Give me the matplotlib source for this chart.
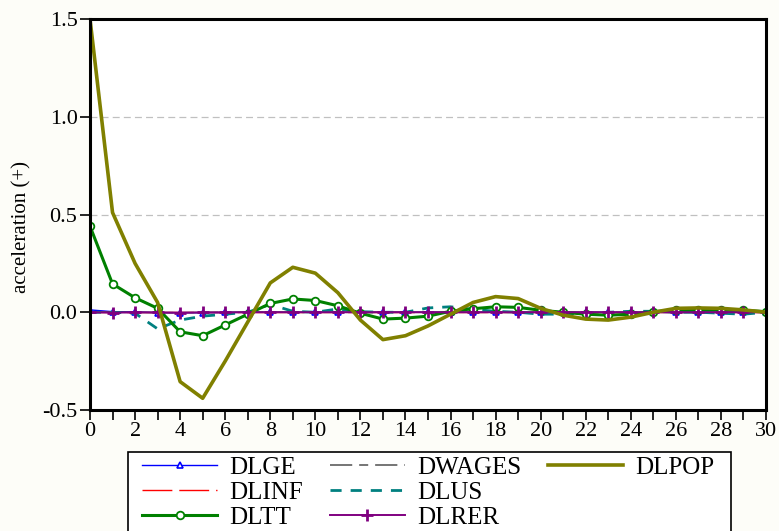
import matplotlib
matplotlib.use('Agg')
import matplotlib.pyplot as plt
from matplotlib.patches import Rectangle
import numpy as np

plt.rcParams['font.family'] = ['Liberation Serif', 'DejaVu Serif']
plt.rcParams['lines.scale_dashes'] = False

periods = np.arange(0, 31)

dlpop = [1.50, 0.51, 0.25, 0.05, -0.355, -0.44, -0.25, -0.05, 0.15, 0.23,
         0.20, 0.10, -0.04, -0.14, -0.12, -0.07, -0.01, 0.05, 0.08, 0.07,
         0.02, -0.015, -0.035, -0.04, -0.025, 0.0, 0.02, 0.022, 0.02, 0.012,
         0.0]
dltt = [0.44, 0.145, 0.074, 0.02, -0.10, -0.12, -0.065, -0.01, 0.045, 0.068,
        0.06, 0.033, -0.005, -0.035, -0.03, -0.02, 0.005, 0.018, 0.028, 0.025,
        0.01, 0.0, -0.01, -0.015, -0.01, 0.003, 0.01, 0.012, 0.012, 0.01,
        0.003]
dlus = [0.0, 0.0, -0.005, -0.085, -0.04, -0.02, -0.01, 0.0, 0.04, 0.005,
        0.0, 0.017, 0.003, 0.0, 0.0, 0.022, 0.028, 0.015, 0.005, 0.0,
        -0.01, -0.01, -0.005, 0.0, 0.005, 0.005, 0.0, 0.0, -0.005, -0.01,
        0.0]
dlge = [0.012, 0.003, 0.002, -0.002, -0.003, -0.002, -0.001, 0.0, 0.0, 0.0,
        0.0, 0.0, 0.0, 0.0, 0.0, 0.0, 0.0, 0.0, 0.0, 0.0,
        0.0, 0.0, 0.0, 0.0, 0.0, 0.0, 0.0, 0.0, 0.0, 0.0,
        0.0]
dlinf = [0.0] * 31
dwages = [0.002, 0.001, 0.0, -0.002, -0.002, -0.001, 0.0, 0.001, 0.001, 0.0,
          0.0, 0.0, 0.0, 0.0, 0.0, 0.0, 0.0, 0.0, 0.0, 0.0,
          0.0, 0.0, 0.0, 0.0, 0.0, 0.0, 0.0, 0.0, 0.0, 0.0,
          0.0]
dlrer = [0.0, -0.002, -0.001, -0.001, -0.002, -0.001, -0.001, 0.0, 0.0, 0.0,
         0.0, 0.0, 0.0, 0.0, 0.0, 0.0, 0.0, 0.0, 0.0, 0.0,
         0.0, 0.0, 0.0, 0.0, 0.0, 0.0, 0.0, 0.0, 0.0, 0.0,
         0.0]

W, H = 779, 531
fig = plt.figure(figsize=(W / 100, H / 100), dpi=100, facecolor='#fdfdf8')
ax = fig.add_axes([90 / W, 1 - 410 / H, 676 / W, 391 / H])
ax.set_facecolor('white')

ax.grid(axis='y', color='#c0c0c0', linestyle=(0, (5, 3)), lw=0.9)
ax.set_axisbelow(True)

h_ge, = ax.plot(periods, dlge, color='#0000ff', lw=1.0, marker='^', ms=5,
                mfc='white', mec='#0000ff', mew=1.2, label='DLGE')
h_inf, = ax.plot(periods, dlinf, color='#ff0000', lw=1.0,
                 linestyle=(0, (21.5, 5)), label='DLINF')
h_wg, = ax.plot(periods, dwages, color='#505050', lw=1.1,
                linestyle=(0, (16, 5, 6.5, 5)), label='DWAGES')
h_us, = ax.plot(periods, dlus, color='#008080', lw=2.0,
                linestyle=(0, (8, 6.5)), label='DLUS')
h_tt, = ax.plot(periods, dltt, color='#008000', lw=2.2, marker='o', ms=5.5,
                mfc='white', mec='#008000', mew=1.3, label='DLTT')
h_rer, = ax.plot(periods, dlrer, color='#800080', lw=1.4, marker='+', ms=8,
                 mew=2.0, label='DLRER')
h_pop, = ax.plot(periods, dlpop, color='#808000', lw=2.6, label='DLPOP')

ax.set_xlim(0, 30)
ax.set_ylim(-0.5, 1.5)
ax.set_xticks(np.arange(0, 31, 2))
ax.set_xticks(np.arange(0, 31, 1), minor=True)
ax.set_yticks([-0.5, 0.0, 0.5, 1.0, 1.5])
ax.set_yticklabels(['-0.5', '0.0', '0.5', '1.0', '1.5'])
ax.tick_params(axis='both', which='major', direction='out', length=7,
               width=1.2, labelsize=16, pad=2)
ax.tick_params(axis='x', which='minor', direction='out', length=7, width=1.2)
for s in ax.spines.values():
    s.set_linewidth(2.2)
    s.set_color('black')

ax.set_ylabel('acceleration (+)', fontsize=15)
ax.yaxis.set_label_coords(-0.086, 0.468)

# legend box runs off the bottom of the figure, as in the original export
fig.patches.append(Rectangle((128 / W, -0.05), (731 - 128) / W,
                             (1 - 452 / H) + 0.05, transform=fig.transFigure,
                             facecolor='white', edgecolor='black', lw=1.2,
                             zorder=0))

blank = plt.Line2D([], [], color='none')
handles = [h_ge, h_inf, h_tt, h_wg, h_us, h_rer, h_pop, blank, blank]
labels = ['DLGE', 'DLINF', 'DLTT', 'DWAGES', 'DLUS', 'DLRER', 'DLPOP', '', '']
leg = fig.legend(handles, labels, ncol=3, loc='upper left',
                 bbox_to_anchor=(142 / W, 1 - 456 / H), fontsize=18,
                 frameon=False, handlelength=3.0, handletextpad=0.48,
                 columnspacing=1.08, labelspacing=0.11, borderpad=0,
                 borderaxespad=0)

fig.savefig('out.png', dpi=100, facecolor=fig.get_facecolor())
